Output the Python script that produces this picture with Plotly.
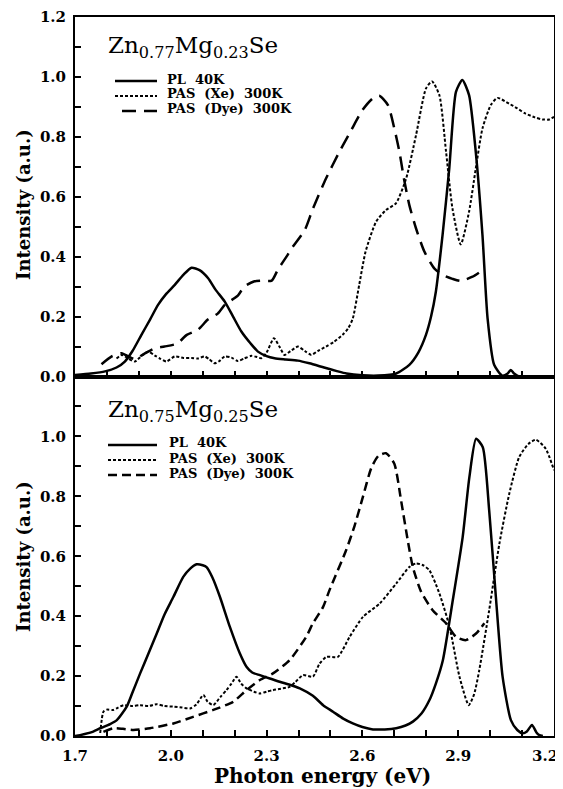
import plotly.graph_objects as go
from plotly.subplots import make_subplots

# ─── Data: Zn0.77Mg0.23Se (top panel) ────────────────────────────────────────
top_pl_e = [1.70, 1.75, 1.794, 1.83, 1.856, 1.88, 1.908, 1.935, 1.96, 1.985, 2.0125, 2.04,
            2.065, 2.09, 2.117, 2.14, 2.169, 2.195, 2.221, 2.25, 2.273, 2.30, 2.325, 2.36,
            2.398, 2.434, 2.48, 2.52, 2.55, 2.60, 2.65, 2.706, 2.747, 2.775, 2.799, 2.815,
            2.83, 2.851, 2.872, 2.893, 2.913, 2.934, 2.955, 2.976, 2.992, 3.0125, 3.038,
            3.055, 3.065, 3.075, 3.09, 3.10]
top_pl_i = [0.005, 0.01, 0.017, 0.03, 0.05, 0.085, 0.139, 0.19, 0.239, 0.275, 0.306, 0.34,
            0.363, 0.355, 0.328, 0.29, 0.25, 0.2, 0.15, 0.11, 0.083, 0.068, 0.061, 0.057,
            0.053, 0.044, 0.03, 0.018, 0.01, 0.004, 0.003, 0.01, 0.039, 0.08, 0.139, 0.2,
            0.283, 0.472, 0.694, 0.95, 0.99, 0.939, 0.75, 0.472, 0.194, 0.039, 0.003,
            0.01, 0.022, 0.01, 0.0, 0.0]

top_xe_e = [1.83, 1.846, 1.867, 1.8875, 1.91, 1.929, 1.95, 1.966, 1.986, 2.0125, 2.04, 2.065,
            2.085, 2.106, 2.12, 2.1375, 2.15, 2.169, 2.19, 2.21, 2.23, 2.252, 2.27, 2.283,
            2.30, 2.323, 2.34, 2.356, 2.375, 2.398, 2.42, 2.44, 2.46, 2.486, 2.51, 2.538,
            2.555, 2.57, 2.59, 2.61, 2.643, 2.674, 2.705, 2.737, 2.768, 2.799, 2.818, 2.841,
            2.862, 2.882, 2.908, 2.934, 2.955, 2.976, 3.002, 3.023, 3.059, 3.085, 3.11,
            3.14, 3.164, 3.185, 3.20]
top_xe_i = [0.06, 0.072, 0.06, 0.05, 0.07, 0.083, 0.07, 0.06, 0.05, 0.067, 0.062, 0.062,
            0.06, 0.067, 0.058, 0.044, 0.05, 0.067, 0.063, 0.052, 0.06, 0.069, 0.065, 0.061,
            0.08, 0.128, 0.1, 0.072, 0.085, 0.1, 0.085, 0.072, 0.085, 0.1, 0.115, 0.139,
            0.16, 0.194, 0.306, 0.417, 0.517, 0.556, 0.578, 0.661, 0.806, 0.961, 0.985, 0.939,
            0.75, 0.561, 0.441, 0.55, 0.694, 0.828, 0.906, 0.93, 0.911, 0.895, 0.878,
            0.865, 0.858, 0.858, 0.867]

top_dye_e = [1.783, 1.815, 1.846, 1.867, 1.8875, 1.92, 1.95, 1.98, 2.02, 2.05, 2.085, 2.116,
             2.147, 2.17, 2.21, 2.23, 2.26, 2.28, 2.316, 2.335, 2.366, 2.38, 2.42, 2.445,
             2.486, 2.528, 2.565, 2.60, 2.632, 2.653, 2.68, 2.70, 2.716, 2.73, 2.747, 2.768,
             2.794, 2.825, 2.851, 2.882, 2.908, 2.945, 2.97]
top_dye_i = [0.041, 0.067, 0.078, 0.067, 0.058, 0.078, 0.094, 0.1, 0.11, 0.139, 0.156, 0.19,
             0.21, 0.24, 0.27, 0.30, 0.317, 0.32, 0.32, 0.356, 0.406, 0.43, 0.49, 0.56,
             0.661, 0.75, 0.822, 0.889, 0.928, 0.937, 0.906, 0.828, 0.75, 0.661, 0.572, 0.494,
             0.417, 0.361, 0.339, 0.326, 0.319, 0.333, 0.35]

# ─── Data: Zn0.75Mg0.25Se (bottom panel) ─────────────────────────────────────
bot_pl_e = [1.70, 1.716, 1.75, 1.779, 1.81, 1.831, 1.862, 1.88, 1.904, 1.93, 1.956, 1.98,
            2.008, 2.039, 2.06, 2.081, 2.10, 2.112, 2.13, 2.154, 2.185, 2.216, 2.237, 2.255,
            2.279, 2.31, 2.341, 2.37, 2.404, 2.445, 2.477, 2.508, 2.54, 2.57, 2.60, 2.633,
            2.67, 2.706, 2.735, 2.758, 2.785, 2.81, 2.83, 2.852, 2.883, 2.914, 2.935, 2.956,
            2.977, 2.997, 3.018, 3.039, 3.065, 3.085, 3.102, 3.115, 3.131, 3.145, 3.154, 3.165]
bot_pl_i = [0.0, 0.003, 0.012, 0.026, 0.04, 0.053, 0.098, 0.145, 0.209, 0.275, 0.342, 0.405,
            0.464, 0.531, 0.558, 0.573, 0.57, 0.564, 0.53, 0.464, 0.364, 0.276, 0.231, 0.212,
            0.203, 0.192, 0.181, 0.172, 0.159, 0.134, 0.103, 0.081, 0.058, 0.042, 0.03, 0.022,
            0.022, 0.026, 0.035, 0.048, 0.075, 0.12, 0.175, 0.253, 0.453, 0.664, 0.864, 0.992,
            0.964, 0.753, 0.464, 0.198, 0.053, 0.02, 0.009, 0.015, 0.037, 0.012, 0.003, 0.0]

bot_xe_e = [1.779, 1.789, 1.80, 1.82, 1.835, 1.852, 1.88, 1.904, 1.93, 1.956, 1.98, 2.008,
            2.035, 2.06, 2.08, 2.102, 2.115, 2.133, 2.155, 2.174, 2.19, 2.206, 2.22, 2.237,
            2.26, 2.279, 2.30, 2.32, 2.345, 2.372, 2.39, 2.414, 2.445, 2.465, 2.487, 2.523,
            2.56, 2.602, 2.654, 2.706, 2.747, 2.768, 2.79, 2.81, 2.841, 2.873, 2.904, 2.933,
            2.95, 2.966, 2.997, 3.029, 3.06, 3.091, 3.12, 3.143, 3.174, 3.20]
bot_xe_i = [0.01, 0.081, 0.088, 0.087, 0.095, 0.103, 0.1, 0.103, 0.1, 0.106, 0.1, 0.098,
            0.095, 0.092, 0.105, 0.137, 0.115, 0.103, 0.13, 0.153, 0.175, 0.198, 0.175, 0.159,
            0.148, 0.142, 0.148, 0.153, 0.158, 0.164, 0.18, 0.203, 0.198, 0.24, 0.264, 0.264,
            0.331, 0.398, 0.442, 0.509, 0.564, 0.576, 0.57, 0.553, 0.476, 0.364, 0.198, 0.103,
            0.14, 0.22, 0.42, 0.642, 0.809, 0.931, 0.975, 0.989, 0.959, 0.887]

bot_dye_e = [1.789, 1.82, 1.85, 1.883, 1.935, 2.008, 2.07, 2.133, 2.195, 2.237, 2.279, 2.32,
             2.372, 2.424, 2.445, 2.477, 2.497, 2.549, 2.575, 2.602, 2.628, 2.65, 2.674, 2.70,
             2.721, 2.742, 2.758, 2.784, 2.82, 2.862, 2.893, 2.924, 2.956, 2.982]
bot_dye_i = [0.014, 0.026, 0.024, 0.02, 0.026, 0.042, 0.064, 0.087, 0.114, 0.153, 0.187, 0.209,
             0.253, 0.331, 0.376, 0.431, 0.487, 0.62, 0.70, 0.80, 0.895, 0.935, 0.944, 0.909,
             0.787, 0.653, 0.564, 0.481, 0.42, 0.376, 0.331, 0.32, 0.342, 0.376]

series_names = ["PL\u00a0\u00a040K", "PAS\u00a0\u00a0(Xe)\u00a0\u00a0300K", "PAS\u00a0\u00a0(Dye)\u00a0\u00a0300K"]
panel_labels = ["Zn<sub>0.77</sub>Mg<sub>0.23</sub>Se", "Zn<sub>0.75</sub>Mg<sub>0.25</sub>Se"]
x_ticks = [1.7, 2.0, 2.3, 2.6, 2.9, 3.2]
# the right-most label sits pulled inside the frame, as in the original figure
x_ticktext = ["1.7", "2.0", "2.3", "2.6", "2.9", ""]
x_last_label = "3.2"

# ─── Styling ─────────────────────────────────────────────────────────────────
# the page body has an 8px margin, so the figure is sized to sit inside it
OFF = 8
W, H = 555, 781
ML, MR, MT, MB = 67, 9, 9, 53
SERIF = "DejaVu Serif"
INK = "black"
DOT = "3px,2px"
STYLES_TOP = [dict(width=2.5), dict(width=2, dash=DOT), dict(width=2.5, dash="14px,8px")]
STYLES_BOT = [dict(width=2.5), dict(width=2, dash=DOT), dict(width=2.5, dash="9px,5px")]


def px_x(p):
    """page pixel -> paper x"""
    return (p - OFF - ML) / (W - ML - MR)


def px_y(p):
    """page pixel -> paper y"""
    return (H - MB - (p - OFF)) / (H - MT - MB)


fig = make_subplots(rows=2, cols=1, shared_xaxes=True, vertical_spacing=0)

panels = [
    (1, [(top_pl_e, top_pl_i), (top_xe_e, top_xe_i), (top_dye_e, top_dye_i)], STYLES_TOP),
    (2, [(bot_pl_e, bot_pl_i), (bot_xe_e, bot_xe_i), (bot_dye_e, bot_dye_i)], STYLES_BOT),
]
for row, series, styles in panels:
    for (e, i), st, name in zip(series, styles, series_names):
        fig.add_trace(
            go.Scatter(x=e, y=i, mode="lines", name=name, showlegend=False,
                       line=dict(color=INK, shape="spline", smoothing=0.6, **st)),
            row=row, col=1,
        )

tickfont = dict(family=SERIF, size=15, color=INK, weight="bold")
axis_common = dict(showline=True, linecolor=INK, linewidth=2, mirror=True,
                   ticks="inside", ticklen=6, tickwidth=2, tickcolor=INK,
                   showgrid=False, zeroline=False, tickfont=tickfont,
                   ticklabeloverflow="allow", automargin=False)

fig.update_xaxes(range=[1.7, 3.2], tickvals=x_ticks, ticktext=x_ticktext,
                 ticklabelstandoff=5,
                 minor=dict(ticks="inside", dtick=0.1, tick0=1.7, ticklen=6, tickwidth=2,
                            tickcolor=INK, showgrid=False),
                 **axis_common)
fig.update_xaxes(showticklabels=False, row=1, col=1)

top_ticks = [0.0, 0.2, 0.4, 0.6, 0.8, 1.0, 1.2]
bot_ticks = [0.0, 0.2, 0.4, 0.6, 0.8, 1.0]
y_minor = dict(ticks="inside", tickvals=[0.1, 0.3, 0.5, 0.7, 0.9, 1.1], ticklen=6,
               tickwidth=2, tickcolor=INK, showgrid=False)
fig.update_yaxes(range=[0, 1.2], tickvals=top_ticks, ticktext=[f"{v:.1f}" for v in top_ticks],
                 ticklabelstandoff=4, minor=y_minor, **axis_common, row=1, col=1)
fig.update_yaxes(range=[0, 1.2], tickvals=bot_ticks, ticktext=[f"{v:.1f}" for v in bot_ticks],
                 ticklabelstandoff=4, minor=y_minor, **axis_common, row=2, col=1)

# axis titles, panel labels
ann = []
for yc in (205, 557):
    ann.append(dict(text="Intensity (a.u.)", xref="paper", yref="paper", x=px_x(23), y=px_y(yc),
                    textangle=-90, showarrow=False, xanchor="center", yanchor="middle",
                    font=dict(family=SERIF, size=18, color=INK, weight="bold")))
ann.append(dict(text="Photon energy (eV)", xref="paper", yref="paper", x=px_x(322), y=px_y(776),
                showarrow=False, xanchor="center", yanchor="middle",
                font=dict(family=SERIF, size=20, color=INK, weight="bold")))
ann.append(dict(text=x_last_label, xref="paper", yref="paper", x=px_x(545), y=px_y(756),
                showarrow=False, xanchor="center", yanchor="middle", font=tickfont))
for lab, yc in zip(panel_labels, (47, 411)):
    ann.append(dict(text=lab, xref="paper", yref="paper", x=px_x(106), y=px_y(yc),
                    showarrow=False, xanchor="left", yanchor="middle",
                    font=dict(family=SERIF, size=23, color=INK)))

# legend keys (one block per panel)
shapes = []
legend_rows = [
    (STYLES_TOP, [(79, 115), (94, 115), (109, 122)], 165),
    (STYLES_BOT, [(443, 108), (458, 108), (473, 108)], 167),
]
for styles, rows, tx in legend_rows:
    for (yc, x0), st, name in zip(rows, styles, series_names):
        shapes.append(dict(type="line", xref="paper", yref="paper",
                           x0=px_x(x0), x1=px_x(157), y0=px_y(yc + 2), y1=px_y(yc + 2),
                           line=dict(color=INK, **st)))
        ann.append(dict(text=name, xref="paper", yref="paper", x=px_x(tx), y=px_y(yc),
                        showarrow=False, xanchor="left", yanchor="middle",
                        font=dict(family=SERIF, size=13, color=INK, weight="bold")))

fig.update_layout(
    width=W, height=H,
    margin=dict(l=ML, r=MR, t=MT, b=MB),
    paper_bgcolor="white", plot_bgcolor="white",
    annotations=ann, shapes=shapes,
    showlegend=False,
)

fig.write_html("out.html")
